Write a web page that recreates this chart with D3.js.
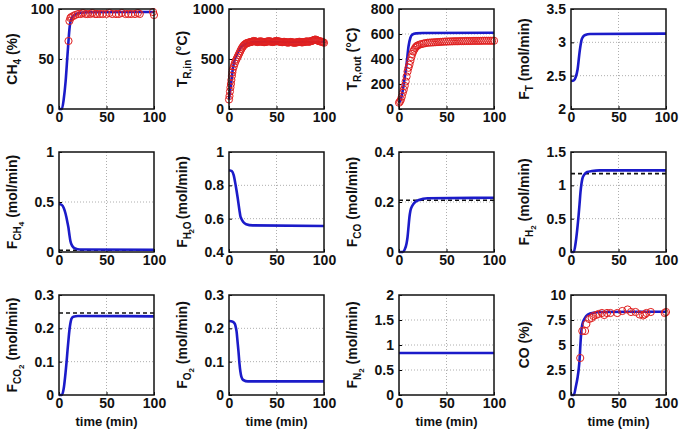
<!DOCTYPE html>
<html>
<head>
<meta charset="utf-8">
<script src="https://cdn.jsdelivr.net/npm/d3@7"></script>
<style>
  body { margin: 0; background: #fff; }
  text { font-family: "Liberation Sans", Arial, sans-serif; font-weight: bold; fill: #111; }
</style>
</head>
<body>
<svg width="686" height="432"></svg>
<script>
// model curves (blue) and experiment points (red circles), [time, value]
const ch4Model = [[0,0],[3,0],[5,10],[7,28],[9,55],[10,68],[11,80],[12,87],[13,90],[15,93],[18,95],[22,96.3],[30,96.8],[100,97]];
const ch4Exp = [[10,68],[11,88],[12,91],[13,92],[15,93],[17,94],[20,95],[23,95],[25,96],[28,95],[30,95],[33,95],[35,96],[38,95],[40,95],[43,95],[46,95],[50,95],[53,96],[56,95],[60,95],[63,95],[66,96],[70,95],[73,95],[76,95],[80,95],[83,96],[85,95],[99,97],[100,94]];

const trinModel = [[0,100],[1,170],[2,240],[3,320],[4,400],[5,450],[6,490],[8,540],[10,580],[12,610],[14,630],[17,650],[20,660],[30,670],[100,670]];
const trinExp = [[0,95],[0.5,130],[1,175],[1.5,215],[2,250],[2.5,290],[3,330],[3.5,365],[4,395],[5,425],[6,455],[7,480],[8,500],[9,520],[10,540],[11,560],[12,580],[13,600],[14,615],[15,630],[16,640],[17,648],[18,655],[19,660],[20,662],[21,665],[22,668],[23,670],[24,672],[25,676],[26,680],[27,678],[28,675],[29,672],[30,670],[31,672],[32,674],[33,676],[34,675],[35,672],[36,670],[37,668],[38,670],[39,672],[40,674],[41,676],[42,678],[43,676],[44,674],[45,672],[46,670],[47,672],[48,675],[49,678],[50,680],[51,678],[52,676],[53,674],[54,672],[55,670],[56,668],[57,670],[58,672],[59,670],[60,668],[61,666],[62,664],[63,666],[64,668],[65,670],[66,668],[67,666],[68,664],[69,662],[70,664],[71,666],[72,668],[73,670],[74,672],[75,670],[76,668],[77,666],[78,668],[79,670],[80,672],[81,674],[82,676],[83,674],[84,672],[85,675],[86,678],[87,680],[88,684],[89,688],[90,692],[91,695],[92,690],[93,686],[94,682],[95,678],[96,676],[97,674],[98,672],[99,668],[100,662]];

const troutModel = [[0,50],[2,80],[4,150],[6,250],[8,360],[10,500],[12,570],[14,595],[18,605],[25,608],[100,610]];
const troutExp = [[0,50],[1,60],[2,75],[3,100],[4,130],[5,155],[6,185],[7,220],[8,260],[9,300],[10,330],[11,355],[12,385],[13,415],[14,440],[15,460],[16,475],[17,488],[18,498],[19,505],[20,510],[22,516],[24,520],[26,524],[28,527],[30,530],[32,531],[34,532],[36,533],[38,534],[40,535],[42,536],[44,537],[46,538],[48,539],[50,540],[52,540],[54,541],[56,541],[58,542],[60,542],[62,542],[64,543],[66,543],[68,543],[70,544],[72,544],[74,544],[76,544],[78,545],[80,545],[82,545],[84,545],[86,545],[88,546],[90,546],[92,546],[94,546],[96,546],[98,546],[100,546]];

const ftModel = [[0,2.42],[3,2.43],[5,2.48],[7,2.6],[9,2.85],[10,2.95],[11,3.03],[12.5,3.08],[15,3.11],[20,3.125],[100,3.13]];
const fch4Model = [[0,0.48],[3,0.47],[5,0.44],[7,0.38],[9,0.29],[10,0.24],[11,0.17],[12,0.11],[14,0.06],[17,0.035],[22,0.025],[100,0.022]];
const fh2oModel = [[0,0.89],[3,0.885],[5,0.86],[7,0.8],[9,0.73],[11,0.65],[12,0.615],[13,0.6],[15,0.58],[18,0.567],[25,0.56],[100,0.556]];
const fcoModel = [[0,0],[4,0],[6,0.01],[8,0.035],[9,0.06],[10,0.1],[11,0.14],[12,0.165],[14,0.185],[17,0.2],[21,0.208],[30,0.215],[100,0.217]];
const fh2Model = [[0,0],[3,0],[5,0.15],[7,0.4],[8,0.55],[9,0.72],[10,0.9],[11,1.02],[12,1.1],[14,1.16],[17,1.2],[22,1.215],[30,1.225],[100,1.225]];
const fco2Model = [[0,0],[3,0],[5,0.02],[7,0.07],[8,0.1],[9,0.135],[10,0.166],[11,0.195],[12,0.215],[13,0.228],[15,0.235],[20,0.237],[100,0.236]];
const fo2Model = [[0,0.222],[4,0.22],[6,0.214],[7,0.205],[8,0.19],[9,0.16],[10,0.13],[11,0.095],[12,0.07],[13,0.055],[15,0.045],[20,0.041],[100,0.041]];
const fn2Model = [[0,0.84],[100,0.84]];
const coModel = [[0,0],[3,0],[5,0.8],[7,1.8],[8,2.5],[9,3.5],[10,5.2],[11,6.5],[12,7.1],[14,7.6],[16,7.9],[20,8.15],[30,8.3],[100,8.33]];
const coExp = [[9.7,3.7],[11.9,6.4],[14.8,6.4],[16.2,7.1],[19.1,7.6],[21.7,7.7],[23.5,7.9],[26.4,8.0],[28.9,8.1],[32.5,8.2],[35,8.0],[37.9,8.2],[41.5,8.2],[48.7,8.2],[54,8.4],[59.6,8.55],[63.2,8.3],[67.9,8.3],[72.2,8.05],[75.8,7.95],[77.6,8.05],[79.4,8.2],[84,8.3],[98.6,8.2],[100,8.3]];

// equilibrium values (dashed)
const fch4Ref = 0.018, fcoRef = 0.207, fh2Ref = 1.175, fco2Ref = 0.246;

const xTicks = [0, 50, 100];

const panels = [
  { model: ch4Model, exp: ch4Exp, y: [0, 100], ticks: [0, 50, 100], label: ["CH", "4", " (%)"] },
  { model: trinModel, exp: trinExp, y: [0, 1000], ticks: [0, 500, 1000], label: ["T", "R,in", " (°C)"] },
  { model: troutModel, exp: troutExp, y: [0, 800], ticks: [0, 200, 400, 600, 800], label: ["T", "R,out", " (°C)"] },
  { model: ftModel, y: [2, 3.5], ticks: [2, 2.5, 3, 3.5], label: ["F", "T", "  (mol/min)"] },
  { model: fch4Model, ref: fch4Ref, y: [0, 1], ticks: [0, 0.5, 1], label: ["F", "CH", " (mol/min)", "4"] },
  { model: fh2oModel, y: [0.4, 1], ticks: [0.4, 0.6, 0.8, 1], label: ["F", "H O", " (mol/min)", "2"] },
  { model: fcoModel, ref: fcoRef, y: [0, 0.4], ticks: [0, 0.2, 0.4], label: ["F", "CO", " (mol/min)"] },
  { model: fh2Model, ref: fh2Ref, y: [0, 1.5], ticks: [0, 0.5, 1, 1.5], label: ["F", "H", "  (mol/min)", "2"] },
  { model: fco2Model, ref: fco2Ref, y: [0, 0.3], ticks: [0, 0.1, 0.2, 0.3], label: ["F", "CO", "  (mol/min)", "2"] },
  { model: fo2Model, y: [0, 0.3], ticks: [0, 0.1, 0.2, 0.3], label: ["F", "O", "  (mol/min)", "2"] },
  { model: fn2Model, y: [0, 2], ticks: [0, 0.5, 1, 1.5, 2], label: ["F", "N", "  (mol/min)", "2"] },
  { model: coModel, exp: coExp, y: [0, 10], ticks: [0, 2.5, 5, 7.5, 10], label: ["CO", "", " (%)"] }
];

const colLeft = [59, 229, 399, 571];
const rowTop = [9, 152, 295];
const W = 95, H = 100;
const blue = "#1b1bc9", red = "#e02020";

const svg = d3.select("svg");
const fmt = d3.format("~g");

panels.forEach((p, i) => {
  const col = i % 4, row = Math.floor(i / 4);
  const g = svg.append("g").attr("transform", `translate(${colLeft[col]},${rowTop[row]})`);
  const x = d3.scaleLinear().domain([0, 100]).range([0, W]);
  const y = d3.scaleLinear().domain(p.y).range([H, 0]);

  // dotted grid
  g.selectAll(".gx").data(xTicks.slice(1, -1)).enter().append("line")
    .attr("x1", (d) => x(d)).attr("x2", (d) => x(d)).attr("y1", 0).attr("y2", H)
    .attr("stroke", "#999").attr("stroke-width", 0.8).attr("stroke-dasharray", "1,2");
  g.selectAll(".gy").data(p.ticks.slice(1, -1)).enter().append("line")
    .attr("y1", (d) => y(d)).attr("y2", (d) => y(d)).attr("x1", 0).attr("x2", W)
    .attr("stroke", "#999").attr("stroke-width", 0.8).attr("stroke-dasharray", "1,2");

  // axes tick labels
  g.append("g").attr("transform", `translate(0,${H})`)
    .call(d3.axisBottom(x).tickValues(xTicks).tickSize(-3).tickPadding(3).tickFormat(fmt))
    .call((a) => a.select(".domain").remove())
    .call((a) => a.selectAll("text").attr("font-size", 14).attr("fill", "#111"));
  g.append("g")
    .call(d3.axisLeft(y).tickValues(p.ticks).tickSize(-3).tickPadding(5).tickFormat(fmt))
    .call((a) => a.select(".domain").remove())
    .call((a) => a.selectAll("text").attr("font-size", 14).attr("fill", "#111"));

  const line = d3.line().x((d) => x(d[0])).y((d) => y(d[1])).curve(d3.curveMonotoneX);

  if (p.ref !== undefined) {
    g.append("line").attr("x1", 0).attr("x2", W).attr("y1", y(p.ref)).attr("y2", y(p.ref))
      .attr("stroke", "#111").attr("stroke-width", 1.6).attr("stroke-dasharray", "4,3");
  }
  g.append("path").datum(p.model).attr("d", line)
    .attr("fill", "none").attr("stroke", blue).attr("stroke-width", 2.6);
  if (p.exp) {
    g.selectAll("circle").data(p.exp).enter().append("circle")
      .attr("cx", (d) => x(d[0])).attr("cy", (d) => y(d[1])).attr("r", 3.6)
      .attr("fill", "none").attr("stroke", red).attr("stroke-width", 1);
  }

  g.append("rect").attr("width", W).attr("height", H)
    .attr("fill", "none").attr("stroke", "#111").attr("stroke-width", 1.5);

  // y label
  const t = g.append("text").attr("transform", `translate(-42,${H / 2}) rotate(-90)`)
    .attr("text-anchor", "middle").attr("font-size", 14);
  t.append("tspan").text(p.label[0]);
  if (p.label[1]) t.append("tspan").attr("font-size", 10).attr("dy", 4).text(p.label[1]);
  if (p.label[3]) t.append("tspan").attr("font-size", 8).attr("dy", 3).attr("dx", p.label[1] === "H O" ? -12 : 0).text(p.label[3]);
  t.append("tspan").attr("dy", p.label[3] ? -7 : (p.label[1] ? -4 : 0))
    .attr("dx", p.label[1] === "H O" ? 6 : 0).text(p.label[2]);

  if (row === 2) {
    g.append("text").attr("x", W / 2).attr("y", H + 31).attr("text-anchor", "middle")
      .attr("font-size", 13).text("time (min)");
  }
});
</script>
</body>
</html>
